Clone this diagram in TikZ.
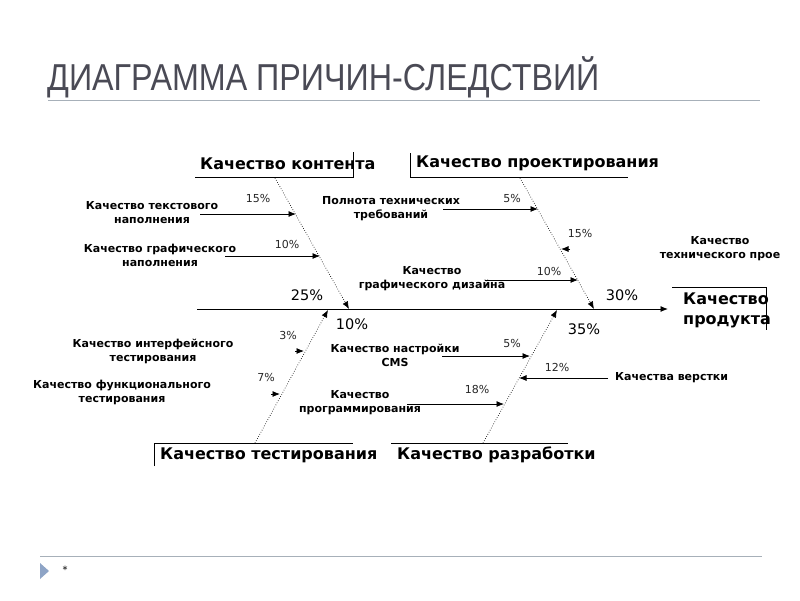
\documentclass[tikz,border=0pt]{standalone}
\usepackage{fontspec}
\setmainfont{DejaVu Sans}
\newfontfamily\titlefont[FakeStretch=0.86]{Liberation Sans}
\usetikzlibrary{arrows.meta}
\definecolor{titlegray}{HTML}{4A4A55}
\definecolor{rulegray}{HTML}{A7B0B9}
\definecolor{bullet}{HTML}{8EA4C6}
\begin{document}
\begin{tikzpicture}[x=1pt,y=-1pt,
  lbl/.style={font=\fontsize{11}{14}\bfseries, align=center, inner sep=0pt},
  cat/.style={font=\fontsize{16}{18}\bfseries, inner sep=0pt, anchor=west},
  pct/.style={font=\fontsize{11}{12}\selectfont, inner sep=0pt, text=black!85},
  bpct/.style={font=\fontsize{14.5}{16}\selectfont, inner sep=0pt},
  tip/.style={-{Latex[length=7.5pt,width=6pt]}},
  bone/.style={tip, dash pattern=on 0.6pt off 1.8pt, line width=0.7pt},
  sub/.style={tip, line width=0.8pt},
  frame/.style={line width=0.9pt}
]
\useasboundingbox (0,0) rectangle (800,600);
% title
\node[anchor=base west, inner sep=0pt, text=titlegray, font=\titlefont\fontsize{37.5}{40}\selectfont] (title) at (47,90) {ДИАГРАММА ПРИЧИН-СЛЕДСТВИЙ};
\draw[rulegray, line width=1pt] (48,100) -- (760,100);
\draw[rulegray, line width=1pt] (40,556) -- (762,556);
\fill[bullet] (40,563) -- (49,571) -- (40,579) -- cycle;
\node[font=\fontsize{10}{12}\selectfont, inner sep=0pt] (star) at (65,570) {*};

% categories
\node[cat] (content) at (200,164) {Качество контента};
\draw[frame] (195,177) -- (353,177) -- (353,152);
\node[cat] (proj) at (416,163) {Качество проектирования};
\draw[frame] (410,153) -- (410,177) -- (628,177);
\node[cat] (test) at (160,455) {Качество тестирования};
\draw[frame] (154,466) -- (154,443) -- (353,443);
\node[cat] (dev) at (397,455) {Качество разработки};
\draw[frame] (391,443) -- (568,443);
\node[cat, align=left, font=\fontsize{16}{20}\bfseries] (prod) at (683,310) {Качество\\продукта};
\draw[frame] (672,287) -- (766,287) -- (766,330);

% spine
\coordinate (sp0) at (197,309);
\coordinate (sp1) at (668,309);
\draw[sub, line width=0.9pt] (sp0) -- (sp1);

% bones
\coordinate (b1s) at (275,178); \coordinate (b1e) at (349,309);
\coordinate (b2s) at (520,178); \coordinate (b2e) at (594,309);
\coordinate (b3s) at (255,443); \coordinate (b3e) at (328,310);
\coordinate (b4s) at (483,443); \coordinate (b4e) at (557,310);
\draw[bone] (b1s) -- (b1e);
\draw[bone] (b2s) -- (b2e);
\draw[bone] (b3s) -- (b3e);
\draw[bone] (b4s) -- (b4e);

% big percents
\node[bpct] (p25) at (307,295) {25\%};
\node[bpct] (p10) at (352,324) {10\%};
\node[bpct] (p30) at (622,295) {30\%};
\node[bpct] (p35) at (584,329) {35\%};

% cause labels
\node[lbl] (l1) at (152,213) {Качество текстового\\наполнения};
\node[lbl] (l2) at (160,255) {Качество графического\\наполнения};
\node[lbl] (l3) at (391,209) {Полнота технических\\требований};
\node[lbl] (l4) at (720,249) {Качество\\технического прое};
\node[lbl] (l5) at (432,279) {Качество\\графического дизайна};
\node[lbl] (l6) at (153,351) {Качество интерфейсного\\тестирования};
\node[lbl] (l7) at (122,392) {Качество функционального\\тестирования};
\node[lbl] (l8) at (395,355) {Качество настройки\\CMS};
\node[lbl, anchor=west] (l9) at (615,378) {Качества верстки};
\node[lbl] (l10) at (360,403) {Качество\\программирования};

% small percents
\node[pct] (q1) at (258,198) {15\%};
\node[pct] (q2) at (287,244) {10\%};
\node[pct] (q3) at (512,198) {5\%};
\node[pct] (q4) at (580,233) {15\%};
\node[pct] (q5) at (549,271) {10\%};
\node[pct] (q6) at (288,335) {3\%};
\node[pct] (q7) at (266,377) {7\%};
\node[pct] (q8) at (512,343) {5\%};
\node[pct] (q9) at (557,367) {12\%};
\node[pct] (q10) at (477,389) {18\%};

% sub-arrows
\coordinate (s1a) at (200,214); \coordinate (s1b) at (296,214);
\coordinate (s2a) at (225,256); \coordinate (s2b) at (320,256);
\coordinate (s3a) at (443,209); \coordinate (s3b) at (538,209);
\coordinate (s4a) at (570,249); \coordinate (s4b) at (561,249);
\coordinate (s5a) at (485,280); \coordinate (s5b) at (578,280);
\coordinate (s6a) at (295,351); \coordinate (s6b) at (304,351);
\coordinate (s7a) at (271,394); \coordinate (s7b) at (280,394);
\coordinate (s8a) at (442,356); \coordinate (s8b) at (530,356);
\coordinate (s9a) at (608,378); \coordinate (s9b) at (519,378);
\coordinate (s10a) at (407,404); \coordinate (s10b) at (504,404);
\draw[sub] (s1a) -- (s1b);
\draw[sub] (s2a) -- (s2b);
\draw[sub] (s3a) -- (s3b);
\draw[sub] (s4a) -- (s4b);
\draw[sub] (s5a) -- (s5b);
\draw[sub] (s6a) -- (s6b);
\draw[sub] (s7a) -- (s7b);
\draw[sub] (s8a) -- (s8b);
\draw[sub] (s9a) -- (s9b);
\draw[sub] (s10a) -- (s10b);
\end{tikzpicture}
\end{document}
